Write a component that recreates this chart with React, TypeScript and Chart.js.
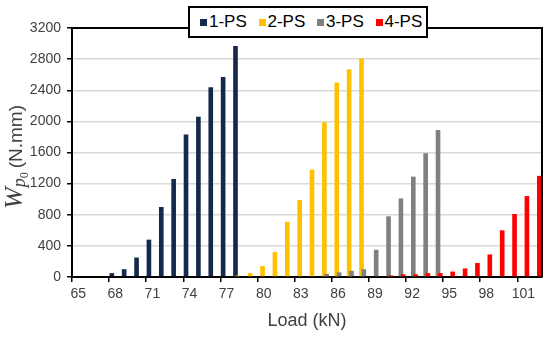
import React, { useEffect, useRef } from "react";
import { Chart, registerables } from "chart.js";

Chart.register(...registerables);

const loads = [
  "65", "66", "67", "68", "69", "70", "71", "72", "73", "74", "75", "76", "77",
  "78", "79", "80", "81", "82", "83", "84", "85", "86", "87", "88", "89", "90",
  "91", "92", "93", "94", "95", "96", "97", "98", "99", "100", "101", "102",
];

// values per load (N.mm); null = no bar
const ps1 = [
  null, null, null, 50, 100, 250, 480, 900, 1260, 1830, 2060, 2440, 2570,
  2970, null, null, null, null, null, null, null, null, null, null, null, null,
  null, null, null, null, null, null, null, null, null, null, null, null,
];
const ps2 = [
  null, null, null, null, null, null, null, null, null, null, null, null, null,
  20, 50, 140, 320, 710, 990, 1380, 1990, 2500, 2670, 2810, null, null,
  null, null, null, null, null, null, null, null, null, null, null, null,
];
const ps3 = [
  null, null, null, null, null, null, null, null, null, null, null, null, null,
  null, null, null, null, null, null, null, 40, 60, 80, 100, 350, 780,
  1010, 1290, 1590, 1890, null, null, null, null, null, null, null, null,
];
const ps4 = [
  null, null, null, null, null, null, null, null, null, null, null, null, null,
  null, null, null, null, null, null, null, null, null, null, null, null, 20,
  35, 35, 50, 50, 70, 110, 180, 290, 600, 810, 1040, 1300,
];

const seriesNames = ["1-PS", "2-PS", "3-PS", "4-PS"];
const seriesColors = ["#14294b", "#ffc000", "#808080", "#ff0000"];

const yMin = 0;
const yMax = 3200;
const yStep = 400;

const FONT = "'Liberation Sans', Arial, sans-serif";

export default function App() {
  const ref = useRef<HTMLCanvasElement>(null);

  useEffect(() => {
    const frame = {
      id: "frame",
      beforeDatasetsDraw(chart: any) {
        const metas = chart.getSortedVisibleDatasetMetas();
        for (const m of metas) m.controller.draw();
        return false;
      },
      afterDraw(chart: any) {
        const { ctx, chartArea } = chart;
        ctx.save();
        ctx.strokeStyle = "#000";
        ctx.lineWidth = 2;
        ctx.beginPath();
        ctx.moveTo(chartArea.left, chartArea.top);
        ctx.lineTo(chartArea.right, chartArea.top);
        ctx.lineTo(chartArea.right, chartArea.bottom);
        ctx.stroke();
        ctx.restore();
      },
    };
    const data = [ps1, ps2, ps3, ps4];
    const chart = new Chart(ref.current!, {
      type: "bar",
      data: {
        labels: loads,
        datasets: seriesNames.map((n, i) => ({
          label: n,
          data: data[i],
          backgroundColor: seriesColors[i],
          borderWidth: 0,
          categoryPercentage: 0.75,
          barPercentage: 2.0,
        })),
      },
      options: {
        responsive: false,
        animation: false,
        devicePixelRatio: 1,
        layout: { padding: { top: 28, right: 8, left: 0, bottom: 0 } },
        plugins: { legend: { display: false }, tooltip: { enabled: false } },
        scales: {
          x: {
            type: "category",
            offset: true,
            grid: {
              offset: true,
              drawOnChartArea: false,
              tickLength: 5,
              lineWidth: 1.5,
              color: (c: any) => (c.index % 3 === 0 ? "#000" : "rgba(0,0,0,0)"),
            },
            border: { color: "#000", width: 2 },
            ticks: {
              autoSkip: false,
              maxRotation: 0,
              minRotation: 0,
              padding: 4,
              color: "#404040",
              font: { size: 14, family: FONT },
              callback: (_v: any, i: number) => (i % 3 === 0 ? loads[i] : ""),
            },
            afterFit: (s: any) => {
              s.height = 60;
            },
          },
          y: {
            min: yMin,
            max: yMax,
            ticks: {
              stepSize: yStep,
              padding: 6,
              color: "#404040",
              font: { size: 14, family: FONT },
              callback: (v: any) => String(v),
            },
            grid: {
              color: "#d9d9d9",
              lineWidth: 1.5,
              tickColor: "#000",
              tickLength: 5,
            },
            border: { color: "#000", width: 2 },
            afterFit: (s: any) => {
              s.width = 72;
            },
          },
        },
      },
      plugins: [frame],
    } as any);
    return () => chart.destroy();
  }, []);

  return (
    <div
      style={{
        position: "absolute",
        left: 0,
        top: 0,
        width: 550,
        height: 337,
        background: "#fff",
        fontFamily: FONT,
        overflow: "hidden",
      }}
    >
      <canvas
        ref={ref}
        width={550}
        height={337}
        style={{ position: "absolute", left: 0, top: 0, width: 550, height: 337 }}
      />
      {/* legend */}
      <div
        style={{
          position: "absolute",
          left: 188,
          top: 6,
          width: 236,
          height: 28,
          border: "2px solid #000",
          background: "#fff",
        }}
      >
        {seriesNames.map((n, i) => (
          <div
            key={n}
            style={{
              position: "absolute",
              left: 10 + i * 58.5,
              top: 0,
              height: 28,
              display: "flex",
              alignItems: "center",
              whiteSpace: "nowrap",
              fontSize: 17,
              color: "#000",
            }}
          >
            <span
              style={{
                display: "inline-block",
                width: 7,
                height: 7,
                background: seriesColors[i],
                marginRight: 2,
              }}
            />
            {n}
          </div>
        ))}
      </div>
      {/* y title */}
      <div
        style={{
          position: "absolute",
          left: 14,
          top: 157,
          transform: "translate(-50%, -50%) rotate(-90deg)",
          whiteSpace: "nowrap",
          color: "#404040",
          display: "flex",
          alignItems: "baseline",
        }}
      >
        <span style={{ fontFamily: "'Liberation Serif', serif", fontStyle: "italic", fontSize: 26 }}>W</span>
        <span
          style={{
            fontFamily: "'Liberation Serif', serif",
            fontStyle: "italic",
            fontSize: 18,
            position: "relative",
            top: 3,
          }}
        >
          p
          <span style={{ fontSize: 12, fontStyle: "normal", position: "relative", top: 3 }}>0</span>
        </span>
        <span style={{ fontSize: 19, marginLeft: 4 }}>(N.mm)</span>
      </div>
      {/* x title */}
      <div
        style={{
          position: "absolute",
          left: 307,
          top: 320,
          transform: "translate(-50%, -50%)",
          whiteSpace: "nowrap",
          color: "#404040",
          fontSize: 18,
        }}
      >
        Load (kN)
      </div>
    </div>
  );
}
